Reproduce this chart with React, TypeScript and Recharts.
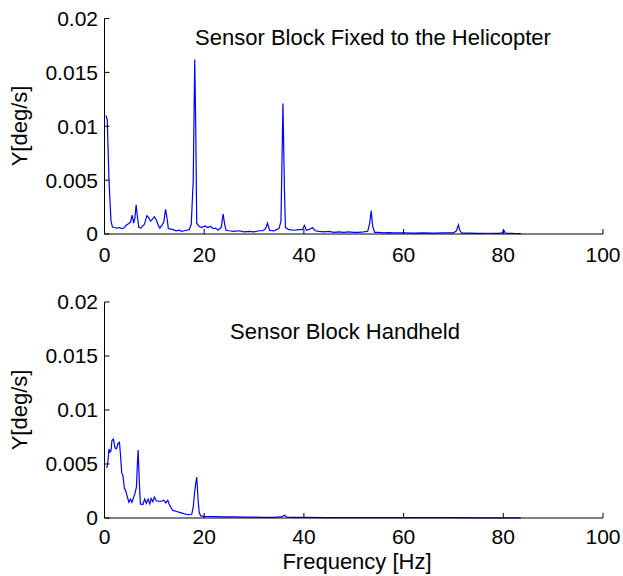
import React from 'react';
import { LineChart, Line, XAxis, YAxis } from 'recharts';

// Frequency [Hz] and amplitude (x 1e-3 deg/s)
const topFreq = [
  0.3, 0.55, 0.9, 1.3, 1.6, 2.0, 2.5, 3.0, 3.5, 3.9, 4.3, 4.8, 5.2, 5.55, 5.85, 6.1, 6.35, 6.6, 6.9, 7.3,
  7.6, 8.0, 8.5, 8.9, 9.2, 9.6, 10.0, 10.4, 10.8, 11.1, 11.5, 11.9, 12.25, 12.6, 12.8, 13.3, 13.8, 14.3, 15.0, 15.5,
  16.0, 16.5, 17.0, 17.4, 17.8, 18.1, 18.3, 18.5, 19.0, 19.5, 20.2, 20.7, 21.3, 21.8, 22.3, 22.8, 23.4, 23.8, 24.1, 24.4,
  25, 26, 27, 28, 29, 30, 31, 31.8, 32.3, 32.7, 33.1, 34, 35, 35.4, 35.8, 36.1, 36.3, 37, 38, 39,
  39.7, 40.1, 40.5, 41.2, 41.7, 42.3, 43, 44, 45, 46, 47, 48, 49, 50, 51, 52, 52.8, 53.2, 53.5, 53.8,
  54.2, 55, 56, 57, 58, 60, 62, 64, 66, 68, 70, 70.6, 71.0, 71.3, 71.7, 73, 75, 77, 79, 79.8,
  80.1, 80.4, 82, 83.5,
];
const topAmp = [
  11.0, 10.6, 5.0, 1.2, 0.65, 0.6, 0.55, 0.6, 0.5, 0.55, 0.8, 0.95, 1.1, 1.75, 1.0, 1.5, 2.7, 1.6, 0.6, 0.55,
  0.7, 0.9, 1.7, 1.5, 1.2, 1.35, 1.6, 1.3, 0.8, 0.55, 0.8, 1.1, 2.3, 1.3, 0.5, 0.45, 0.4, 0.3, 0.35, 0.25,
  0.3, 0.35, 0.4, 0.9, 5.0, 16.2, 10.0, 1.0, 0.7, 0.6, 0.75, 0.6, 0.7, 0.5, 0.55, 0.35, 0.6, 1.85, 0.9, 0.35,
  0.3, 0.25, 0.3, 0.2, 0.25, 0.2, 0.3, 0.3, 0.5, 1.0, 0.35, 0.3, 0.5, 1.2, 12.1, 4.0, 0.6, 0.4, 0.35, 0.4,
  0.4, 0.8, 0.35, 0.45, 0.6, 0.3, 0.25, 0.2, 0.25, 0.15, 0.2, 0.15, 0.2, 0.15, 0.15, 0.2, 0.25, 1.0, 2.15, 0.7,
  0.15, 0.15, 0.1, 0.12, 0.1, 0.1, 0.08, 0.1, 0.08, 0.1, 0.1, 0.3, 0.85, 0.3, 0.08, 0.08, 0.06, 0.07, 0.06, 0.1,
  0.35, 0.08, 0.05, 0.04,
];

const bottomFreq = [
  0.3, 0.5, 0.7, 0.9, 1.1, 1.3, 1.5, 1.8, 2.1, 2.4, 2.7, 3.0, 3.2, 3.45, 3.7, 4.0, 4.2, 4.5, 4.9, 5.2,
  5.5, 5.75, 6.1, 6.4, 6.6, 6.75, 7.0, 7.2, 7.7, 8.05, 8.4, 8.75, 9.1, 9.35, 9.7, 10.0, 10.4, 10.9, 11.4, 11.9,
  12.3, 12.7, 12.95, 13.3, 13.7, 14.5, 15.2, 15.9, 16.7, 17.5, 17.8, 18.1, 18.5, 18.8, 19.0, 19.3, 20, 22, 24, 26,
  28, 30, 32, 34, 35.5, 36.1, 36.6, 38, 40, 45, 50, 55, 60, 65, 70, 75, 80, 83.5,
];
const bottomAmp = [
  4.7, 4.7, 5.3, 6.4, 6.1, 6.2, 7.2, 7.3, 6.5, 6.4, 6.9, 7.0, 5.9, 4.2, 3.9, 2.7, 2.6, 2.1, 1.45, 1.75,
  1.45, 1.8, 2.25, 2.85, 5.0, 6.3, 3.2, 1.3, 1.25, 1.75, 1.35, 1.75, 1.3, 1.8, 1.5, 1.95, 1.6, 1.55, 1.55, 1.65,
  1.4, 1.65, 1.3, 1.0, 0.7, 0.6, 0.5, 0.4, 0.3, 0.35, 1.0, 2.5, 3.8, 1.5, 0.5, 0.2, 0.15, 0.12, 0.1, 0.1,
  0.08, 0.08, 0.06, 0.06, 0.1, 0.25, 0.08, 0.05, 0.05, 0.04, 0.04, 0.03, 0.03, 0.03, 0.03, 0.02, 0.02, 0.02,
];

const xTicks = [0, 20, 40, 60, 80, 100];
const yTicks = [0, 0.005, 0.01, 0.015, 0.02];

const topData = topFreq.map((f, i) => ({ f, a: topAmp[i] * 1e-3 }));
const bottomData = bottomFreq.map((f, i) => ({ f, a: bottomAmp[i] * 1e-3 }));

const FONT = '"Liberation Sans", Arial, Helvetica, sans-serif';
const tickStyle = { fill: '#000', fontSize: 21, fontFamily: FONT };
const black = { stroke: '#000' };

function Panel({ data, top, height, marginTop, marginBottom, xMargin }: any) {
  return (
    <LineChart
      width={623}
      height={height}
      data={data}
      margin={{ top: marginTop, right: 20, bottom: marginBottom, left: 0 }}
      style={{ position: 'absolute', left: 0, top }}
    >
      <XAxis
        dataKey="f"
        type="number"
        domain={[0, 100]}
        ticks={xTicks}
        interval={0}
        tickSize={-5}
        tickMargin={xMargin}
        height={40}
        tick={tickStyle}
        axisLine={black}
        tickLine={black}
      />
      <XAxis
        xAxisId="top"
        orientation="top"
        dataKey="f"
        type="number"
        domain={[0, 100]}
        ticks={xTicks}
        interval={0}
        tickSize={-5}
        height={0}
        tick={false}
        axisLine={black}
        tickLine={black}
      />
      <YAxis
        type="number"
        domain={[0, 0.02]}
        ticks={yTicks}
        interval={0}
        tickSize={-5}
        tickMargin={11.5}
        width={104.5}
        tick={tickStyle}
        axisLine={black}
        tickLine={black}
      />
      <YAxis
        yAxisId="right"
        orientation="right"
        type="number"
        domain={[0, 0.02]}
        ticks={yTicks}
        interval={0}
        tickSize={-5}
        width={0}
        tick={false}
        axisLine={black}
        tickLine={black}
      />
      <Line
        type="linear"
        dataKey="a"
        stroke="#0000ff"
        strokeWidth={1.2}
        dot={false}
        isAnimationActive={false}
      />
    </LineChart>
  );
}

const textBase: React.CSSProperties = {
  position: 'absolute',
  fontFamily: FONT,
  fontSize: 22,
  lineHeight: 1,
  whiteSpace: 'nowrap',
  color: '#000',
};

function Txt({ x, y, children, rotate }: any) {
  return (
    <div
      style={{
        ...textBase,
        left: x,
        top: y,
        transform: `translate(-50%, -50%)${rotate ? ' rotate(-90deg)' : ''}`,
      }}
    >
      {children}
    </div>
  );
}

export default function App() {
  return (
    <div style={{ position: 'absolute', left: 0, top: 0, width: 623, height: 576, background: '#fff', overflow: 'hidden' }}>
      <Panel data={topData} top={0} height={288} marginTop={18.5} marginBottom={14} xMargin={18} />
      <Panel data={bottomData} top={288} height={288} marginTop={14} marginBottom={18} xMargin={16.5} />
      <Txt x={373} y={38}>Sensor Block Fixed to the Helicopter</Txt>
      <Txt x={345} y={332}>Sensor Block Handheld</Txt>
      <Txt x={20} y={126} rotate>Y[deg/s]</Txt>
      <Txt x={20} y={410} rotate>Y[deg/s]</Txt>
      <Txt x={357} y={561.5}>Frequency [Hz]</Txt>
    </div>
  );
}
